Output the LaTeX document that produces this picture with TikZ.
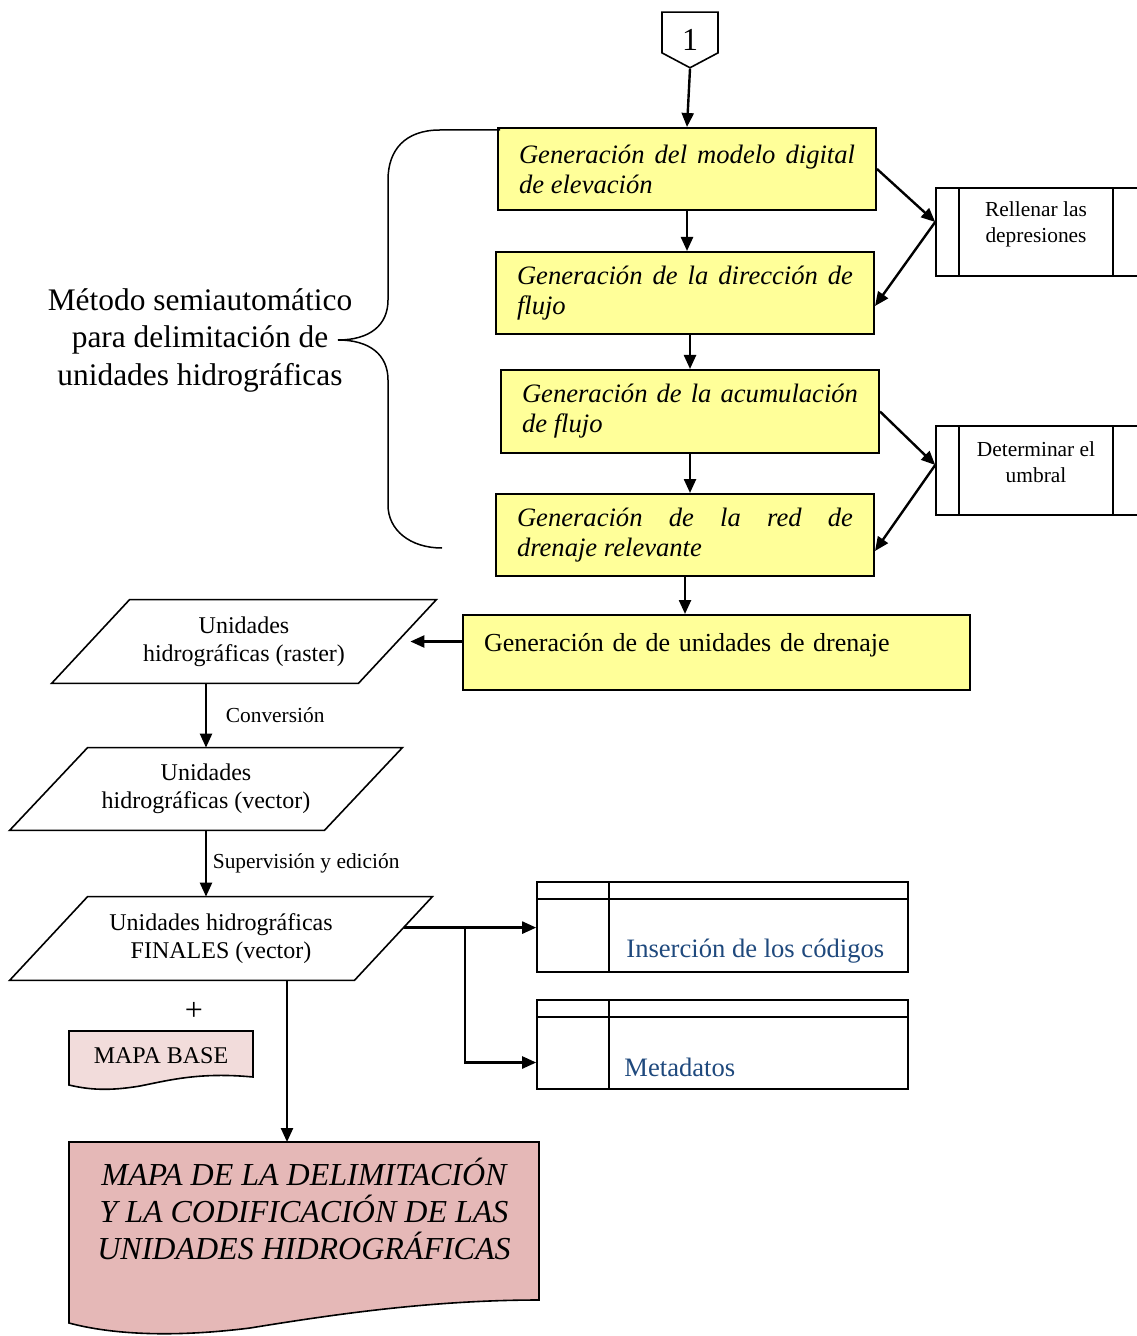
\documentclass[tikz,border=0pt]{standalone}
\usepackage{fontspec}
\setmainfont{Liberation Serif}
\usepackage[svgnames]{xcolor}
\usetikzlibrary{shapes.symbols}
\usetikzlibrary{arrows.meta}
\usetikzlibrary{calc}

\definecolor{StepYellow}{RGB}{255,255,153}
\definecolor{MapPink}{RGB}{229,184,183}
\definecolor{BasePink}{RGB}{242,220,219}
\definecolor{CodeBlue}{RGB}{31,73,125}

\tikzset{
    ybox/.style={draw, line width=1pt, fill=StepYellow, minimum width=189pt, minimum height=41pt,
        text width=168pt, align=justify, inner sep=0pt, font=\fontsize{13.3}{15}\selectfont\itshape},
    procbox/.style={draw, line width=0.8pt, minimum width=102pt, minimum height=44pt},
    procfont/.style={align=center, font=\fontsize{10.7}{13}\selectfont},
    databox/.style={minimum height=41.5pt, inner sep=0pt, align=center, font=\fontsize{12}{14}\selectfont,
        append after command={\pgfextra{\draw [line width=0.8pt]
            ([xshift=39pt]\tikzlastnode.north west) -- (\tikzlastnode.north east)
            -- ([xshift=-39pt]\tikzlastnode.south east) -- (\tikzlastnode.south west) -- cycle;}}},
    tablebox/.style={draw, line width=0.8pt, minimum width=185.5pt, minimum height=45pt},
    arr/.style={-{Triangle[length=7pt, width=6pt]}, line width=1.2pt},
}

\begin{document}
\begin{tikzpicture}[x=0.5pt, y=-0.5pt]
        \useasboundingbox (0,0) rectangle (1136,1336);

            % Page connector
            \node (page) [draw, line width=0.8pt, signal, signal to=south, signal pointer angle=124,
                minimum width=28pt, minimum height=22.5pt, inner sep=0pt, text height=18.3pt, text depth=0pt,
                font=\fontsize{16}{18}\selectfont] at (690,32.5) {1};

            % Semi-automatic steps
            \node (dem) [ybox] at (687,169) {Generación del modelo digital\linebreak de elevación};
            \node (flowdir) [ybox] at (685,293) {Generación de la dirección de\linebreak flujo};
            \node (flowacc) [ybox, minimum height=41.5pt] at (690,411.5) {Generación de la acumulación\linebreak de flujo};
            \node (drain) [ybox] at (685,535) {Generación de la red de\linebreak drenaje relevante};
            \node (units) [ybox, minimum width=253.5pt, minimum height=37.5pt, text width=232.5pt, align=left,
                text height=9.5pt, text depth=11pt, font=\fontsize{13}{15}\selectfont] at (716.5,652.5)
                {Generación de de unidades de drenaje};

            % Side processes
            \node (sinks) [procbox, label={[procfont, xshift=-1pt, yshift=4pt]center:Rellenar las\\depresiones}] at (1038,232) {};
            \node (thresh) [procbox, minimum height=44.5pt, label={[procfont, xshift=-1pt, yshift=4pt]center:Determinar el\\umbral}] at (1038,470.5) {};
            \foreach \p in {sinks, thresh} {
                \draw [line width=0.8pt] ([xshift=12pt]\p.north west) -- ([xshift=12pt]\p.south west);
                \draw [line width=0.8pt] ([xshift=-14pt]\p.north east) -- ([xshift=-14pt]\p.south east);
            }

            % Step arrows
            \draw [arr] (page.south) -- (dem.north);
            \draw [arr] (dem.south) -- (dem.south |- flowdir.north);
            \draw [arr] (flowacc.north |- flowdir.south) -- (flowacc.north);
            \draw [arr] (flowacc.south) -- (flowacc.south |- drain.north);
            \draw [arr] (drain.south) -- (drain.south |- units.north);

            % Side arrows
            \draw [arr] (dem.east) -- ([yshift=5pt]sinks.west);
            \draw [arr] ([yshift=5pt]sinks.west) -- ([yshift=-6.5pt]flowdir.east);
            \draw [arr] (flowacc.east) -- ([yshift=2.75pt]thresh.west);
            \draw [arr] ([yshift=2.75pt]thresh.west) -- ([yshift=-8pt]drain.east);

            % Brace
            \draw [line width=0.75pt] (500,130) -- (440,130) .. controls (405,130) and (388,150) .. (388,180)
                -- (388,300) .. controls (388,325) and (370,340) .. (338,340)
                .. controls (370,340) and (388,355) .. (388,380)
                -- (388,505) .. controls (388,530) and (410,548) .. (442,548);
            \node (method) [align=center, font=\fontsize{15.7}{18.75}\selectfont] at (200,340)
                {Método semiautomático\\para delimitación de\\unidades hidrográficas};

            % Hydrographic units
            \node (raster) [databox, minimum width=192pt] at (244,641.5) {Unidades\\hidrográficas (raster)};
            \node (vector) [databox, minimum width=196pt, minimum height=41pt] at (206,789) {Unidades\\hidrográficas (vector)};
            \node (finals) [databox, minimum width=211pt] at (221,938.5) {Unidades hidrográficas\\FINALES (vector)};

            \draw [arr] (units.west |- raster.east) -- ([xshift=-13pt]raster.east);
            \draw [arr] (raster.south -| vector.north) -- (vector.north)
                node [midway, right, xshift=6pt, font=\fontsize{10.7}{13}\selectfont] {Conversión};
            \draw [arr] (vector.south) -- (vector.south |- finals.north)
                node [midway, right, xshift=-0.5pt, font=\fontsize{10.7}{13}\selectfont] {Supervisión y edición};

            % Codes and metadata
            \node (codes) [tablebox] at (722.5,927) {};
            \node (meta) [tablebox, minimum height=44.5pt] at (722.5,1044.5) {};
            \foreach \t in {codes, meta} {
                \draw [line width=0.8pt] ([yshift=-9pt]\t.north west) -- ([yshift=-9pt]\t.north east);
                \draw [line width=0.8pt] ([xshift=36.5pt]\t.north west) -- ([xshift=36.5pt]\t.south west);
            }
            \node (codestext) [anchor=west, inner sep=0pt, text=CodeBlue, font=\fontsize{13.3}{15}\selectfont]
                at (626,951) {Inserción de los códigos};
            \node (metatext) [anchor=west, inner sep=0pt, text=CodeBlue, font=\fontsize{13.3}{15}\selectfont]
                at (624,1067) {Metadatos};

            \coordinate (finout) at ($(finals.north east)!0.37!([xshift=-39pt]finals.south east)$);
            \coordinate (fork) at (465,928);
            \draw [arr] (finout) -- (finout -| codes.west);
            \draw [arr] (fork) |- ([yshift=-9pt]meta.west);

            % Base map
            \node (plus) [font=\fontsize{16}{18}\selectfont] at (194,1011) {+};
            \draw [line width=0.8pt, fill=BasePink] (69,1031) -- (253,1031) -- (253,1077)
                .. controls (200,1072) and (170,1080) .. (140,1086)
                .. controls (110,1091) and (90,1090) .. (69,1085) -- cycle;
            \node (mapbase) [font=\fontsize{12}{14}\selectfont] at (161,1056) {MAPA BASE};

            % Final map
            \draw [line width=0.8pt, fill=MapPink] (69,1142) -- (539,1142) -- (539,1300)
                .. controls (430,1300) and (330,1315) .. (250,1328)
                .. controls (170,1338) and (110,1334) .. (69,1323) -- cycle;
            \node (mapfinal) [align=center, font=\fontsize{16}{18.5}\selectfont\itshape] at (304,1209)
                {MAPA DE LA DELIMITACIÓN\\Y LA CODIFICACIÓN DE LAS\\UNIDADES HIDROGRÁFICAS};
            \coordinate (mapin) at (287,1142);
            \draw [arr] (finals.south -| mapin) -- (mapin);
        \end{tikzpicture}
\end{document}
